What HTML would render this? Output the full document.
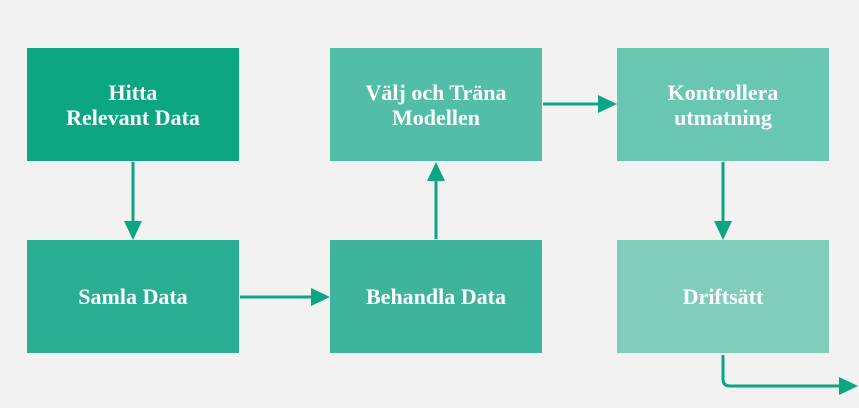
<!DOCTYPE html>
<html><head><meta charset="utf-8"><style>
body{margin:0;width:859px;height:408px;background:#f2f2f2;overflow:hidden;position:relative;font-family:"Liberation Serif",serif;}
.b{position:absolute;width:212px;height:113px;display:flex;align-items:center;justify-content:center;text-align:center;color:#fff;font-weight:bold;font-size:22px;line-height:25px;}
svg{position:absolute;left:0;top:0;}
</style></head><body>
<div class="b" style="left:27px;top:48px;background:#0ca683">Hitta<br>Relevant Data</div>
<div class="b" style="left:27px;top:240px;background:#2aae93">Samla Data</div>
<div class="b" style="left:330px;top:240px;background:#3db59c">Behandla Data</div>
<div class="b" style="left:330px;top:48px;background:#53bea7">Välj och Träna<br>Modellen</div>
<div class="b" style="left:617px;top:48px;background:#68c6b1">Kontrollera<br>utmatning</div>
<div class="b" style="left:617px;top:240px;background:#80cdbb">Driftsätt</div>
<svg width="859" height="408">
<g stroke="#0ca683" stroke-width="3" fill="none">
<line x1="133" y1="162" x2="133" y2="222"/>
<line x1="240" y1="297" x2="312" y2="297"/>
<line x1="436" y1="239" x2="436" y2="180"/>
<line x1="543" y1="104" x2="599" y2="104"/>
<line x1="723" y1="162" x2="723" y2="222"/>
<path d="M723 355 V379 Q723 386 730 386 H840"/>
</g>
<g fill="#0ca683">
<polygon points="124,221 142,221 133,240"/>
<polygon points="311,288 311,306 330,297"/>
<polygon points="427,181 445,181 436,162"/>
<polygon points="598,95 598,113 617,104"/>
<polygon points="714,221 732,221 723,240"/>
<polygon points="839,377 839,395 858,386"/>
</g>
</svg>
</body></html>
